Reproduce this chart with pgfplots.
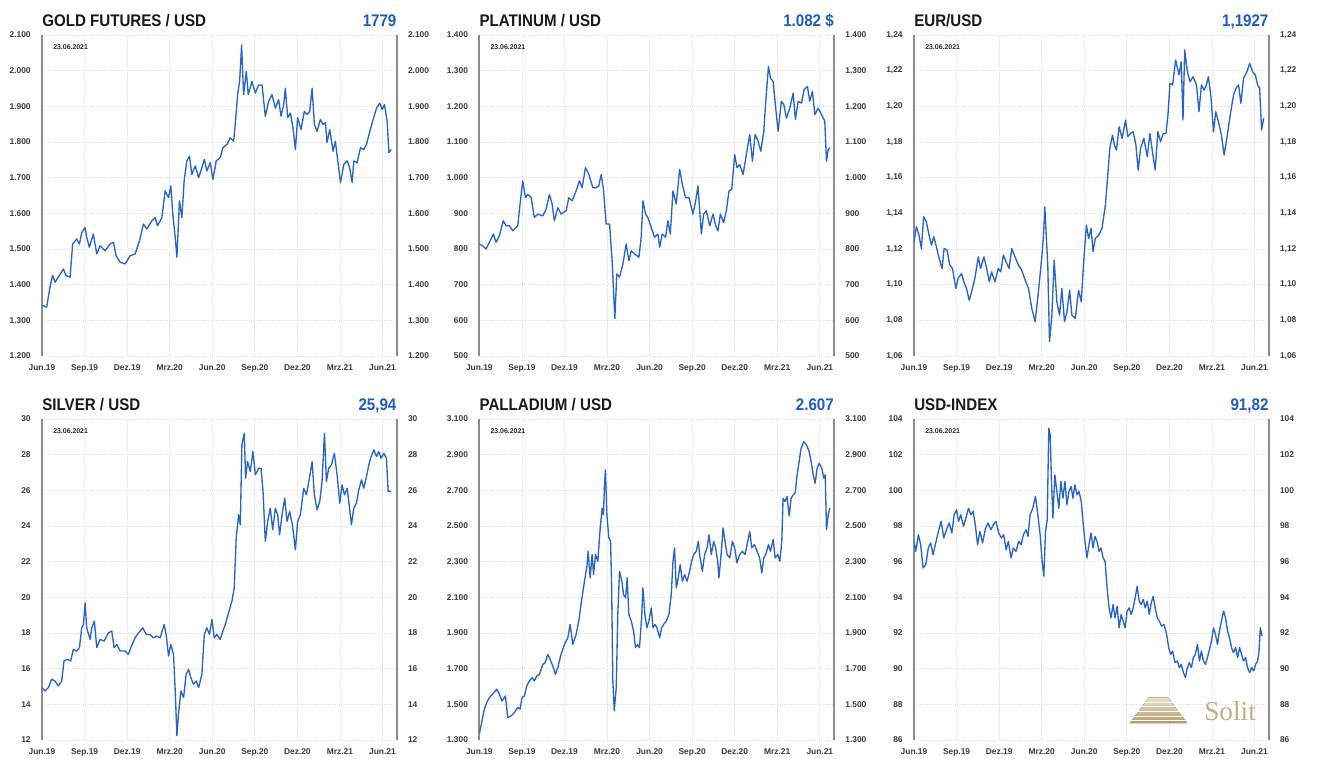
\documentclass[border=0pt]{standalone}
\usepackage{fontspec}
\setmainfont{Liberation Sans}
\newfontfamily\condfont[FakeStretch=0.9]{Liberation Sans}
\newfontfamily\seriffont{Liberation Serif}
\usepackage{pgfplots}
\usepackage{pgfplotstable}
\pgfplotsset{compat=1.18}

\definecolor{linecol}{HTML}{2864C8}
\definecolor{valcol}{HTML}{1F5BC0}
\definecolor{axisgray}{HTML}{8C8C8C}
\definecolor{gridcol}{HTML}{E2E2E2}
\definecolor{tickcol}{HTML}{3A3A3A}
\definecolor{logolight}{HTML}{EDE3CC}
\definecolor{logodark}{HTML}{B39A6B}
\definecolor{solitcol}{HTML}{C4AE86}

\newcommand\tickfont{\fontsize{6.3}{7}\selectfont\bfseries}
\newcommand\titlefnt{\condfont\bfseries\fontsize{12.6}{14}\selectfont}
\newcommand\datefont{\fontsize{5.2}{6}\selectfont\bfseries}

\pgfplotstableread[row sep=\\]{
x y\\
0.00 1342\\ 0.33 1337\\ 0.56 1393\\ 0.75 1426\\ 0.92 1407\\ 1.15 1421\\ 1.51 1444\\ 1.69 1426\\ 1.98 1421\\ 2.16 1514\\
2.45 1528\\ 2.64 1514\\ 2.80 1546\\ 3.04 1560\\ 3.15 1533\\ 3.34 1505\\ 3.62 1542\\ 3.86 1486\\ 4.09 1509\\ 4.45 1495\\
4.80 1514\\ 5.04 1519\\ 5.22 1481\\ 5.51 1463\\ 5.86 1458\\ 6.21 1481\\ 6.56 1486\\ 6.87 1523\\ 7.15 1570\\ 7.39 1556\\
7.74 1579\\ 7.98 1588\\ 8.14 1565\\ 8.45 1588\\ 8.68 1663\\ 8.92 1644\\ 9.08 1677\\ 9.22 1598\\ 9.39 1533\\ 9.51 1477\\
9.69 1635\\ 9.86 1588\\ 10.02 1691\\ 10.21 1747\\ 10.40 1760\\ 10.56 1709\\ 10.80 1733\\ 11.04 1700\\ 11.27 1728\\ 11.44 1751\\
11.62 1719\\ 11.86 1742\\ 12.05 1695\\ 12.28 1747\\ 12.56 1756\\ 12.75 1784\\ 13.04 1793\\ 13.27 1812\\ 13.51 1802\\ 13.62 1849\\
13.79 1933\\ 13.93 1970\\ 14.07 2072\\ 14.21 1933\\ 14.40 1998\\ 14.54 1933\\ 14.80 1970\\ 15.04 1937\\ 15.27 1960\\ 15.51 1960\\
15.74 1872\\ 15.98 1914\\ 16.21 1933\\ 16.45 1895\\ 16.68 1919\\ 16.85 1872\\ 17.04 1905\\ 17.15 1951\\ 17.32 1868\\ 17.51 1881\\
17.69 1840\\ 17.86 1779\\ 18.02 1868\\ 18.26 1835\\ 18.49 1886\\ 18.68 1877\\ 18.87 1886\\ 19.04 1951\\ 19.20 1849\\ 19.39 1830\\
19.62 1863\\ 19.81 1849\\ 19.98 1854\\ 20.09 1798\\ 20.28 1835\\ 20.52 1774\\ 20.68 1802\\ 20.85 1747\\ 21.04 1686\\ 21.27 1737\\
21.51 1747\\ 21.69 1728\\ 21.86 1686\\ 21.98 1747\\ 22.21 1742\\ 22.45 1784\\ 22.68 1779\\ 22.87 1793\\ 23.11 1830\\ 23.34 1863\\
23.58 1895\\ 23.81 1909\\ 23.98 1891\\ 24.14 1905\\ 24.33 1858\\ 24.45 1770\\ 24.61 1779\\
}\goldtab

\pgfplotstableread[row sep=\\]{
x y\\
0 814\\ 0.24 809\\ 0.47 800\\ 0.71 819\\ 0.99 842\\ 1.18 819\\ 1.41 837\\ 1.69 879\\ 1.88 865\\ 2.12 865\\
2.35 851\\ 2.71 865\\ 2.87 926\\ 3.06 991\\ 3.25 944\\ 3.41 953\\ 3.65 944\\ 3.88 888\\ 4.12 898\\ 4.47 893\\
4.71 912\\ 4.94 953\\ 5.13 926\\ 5.29 879\\ 5.53 916\\ 5.76 898\\ 6.12 907\\ 6.31 944\\ 6.54 935\\ 6.82 963\\
7.06 991\\ 7.25 972\\ 7.48 1028\\ 7.72 1009\\ 8.00 972\\ 8.24 972\\ 8.42 977\\ 8.59 1009\\ 8.75 967\\ 8.94 870\\
9.18 870\\ 9.36 767\\ 9.48 665\\ 9.55 605\\ 9.69 730\\ 9.88 721\\ 10.12 758\\ 10.35 814\\ 10.54 767\\ 10.71 795\\
10.94 786\\ 11.25 777\\ 11.41 833\\ 11.53 935\\ 11.72 898\\ 11.88 888\\ 12.12 860\\ 12.35 833\\ 12.59 842\\ 12.71 805\\
12.89 842\\ 13.13 833\\ 13.29 879\\ 13.46 842\\ 13.65 963\\ 13.88 926\\ 14.12 1023\\ 14.31 981\\ 14.54 944\\ 14.78 944\\
15.06 898\\ 15.25 935\\ 15.41 977\\ 15.65 842\\ 15.81 898\\ 16.00 907\\ 16.24 865\\ 16.47 898\\ 16.66 865\\ 16.82 851\\
16.99 898\\ 17.22 874\\ 17.41 907\\ 17.60 963\\ 17.79 967\\ 18.00 1065\\ 18.16 1028\\ 18.35 1037\\ 18.59 1009\\ 18.82 1065\\
19.06 1121\\ 19.25 1046\\ 19.44 1121\\ 19.65 1102\\ 19.84 1074\\ 20.05 1130\\ 20.19 1214\\ 20.38 1312\\ 20.52 1279\\ 20.71 1270\\
20.89 1195\\ 21.06 1130\\ 21.29 1214\\ 21.46 1205\\ 21.65 1167\\ 21.88 1195\\ 22.12 1237\\ 22.28 1163\\ 22.47 1214\\ 22.71 1209\\
22.89 1247\\ 23.13 1256\\ 23.29 1214\\ 23.48 1242\\ 23.65 1177\\ 23.88 1195\\ 24.12 1177\\ 24.35 1158\\ 24.47 1046\\ 24.59 1079\\
24.71 1084\\
}\plattab

\pgfplotstableread[row sep=\\]{
x y\\
0 1.1241\\ 0.17 1.1325\\ 0.35 1.1278\\ 0.52 1.1203\\ 0.68 1.1381\\ 0.87 1.1353\\ 1.06 1.1278\\ 1.23 1.1222\\ 1.39 1.1269\\ 1.58 1.1213\\
1.77 1.1147\\ 1.98 1.1091\\ 2.12 1.1203\\ 2.33 1.1194\\ 2.52 1.1110\\ 2.71 1.1091\\ 2.95 1.0979\\ 3.11 1.1035\\ 3.35 1.1063\\ 3.51 1.1016\\
3.70 1.0979\\ 3.89 1.0913\\ 4.06 1.0960\\ 4.29 1.1035\\ 4.53 1.1156\\ 4.69 1.1091\\ 4.93 1.1156\\ 5.12 1.1091\\ 5.31 1.1016\\ 5.47 1.1072\\
5.71 1.1016\\ 5.94 1.1091\\ 6.11 1.1072\\ 6.30 1.1166\\ 6.49 1.1128\\ 6.70 1.1091\\ 6.89 1.1203\\ 7.12 1.1156\\ 7.36 1.1110\\ 7.59 1.1082\\
7.83 1.1026\\ 8.07 1.0979\\ 8.30 1.0867\\ 8.54 1.0792\\ 8.77 1.0960\\ 9.01 1.1156\\ 9.13 1.1278\\ 9.22 1.1437\\ 9.32 1.1278\\ 9.43 1.1110\\
9.55 1.0680\\ 9.72 1.0829\\ 9.88 1.1138\\ 10.07 1.0904\\ 10.26 1.0829\\ 10.42 1.0979\\ 10.61 1.0792\\ 10.78 1.0848\\ 10.97 1.0969\\ 11.13 1.0829\\
11.37 1.0811\\ 11.60 1.0969\\ 11.79 1.0904\\ 11.96 1.1128\\ 12.15 1.1334\\ 12.31 1.1259\\ 12.48 1.1315\\ 12.62 1.1185\\ 12.78 1.1259\\ 13.02 1.1278\\
13.25 1.1315\\ 13.49 1.1446\\ 13.66 1.1615\\ 13.80 1.1764\\ 13.99 1.1839\\ 14.13 1.1783\\ 14.27 1.1755\\ 14.46 1.1886\\ 14.67 1.1820\\ 14.91 1.1923\\
15.07 1.1830\\ 15.26 1.1848\\ 15.45 1.1858\\ 15.64 1.1783\\ 15.80 1.1643\\ 15.97 1.1764\\ 16.20 1.1820\\ 16.44 1.1717\\ 16.63 1.1848\\ 16.79 1.1755\\
17.00 1.1643\\ 17.19 1.1858\\ 17.38 1.1802\\ 17.57 1.1848\\ 17.76 1.1848\\ 17.90 1.1951\\ 18.04 1.2129\\ 18.23 1.2120\\ 18.44 1.2260\\ 18.68 1.2176\\
18.84 1.2250\\ 18.96 1.1923\\ 19.08 1.2316\\ 19.27 1.2194\\ 19.46 1.2138\\ 19.67 1.2166\\ 19.91 1.2120\\ 20.09 1.1970\\ 20.26 1.2120\\ 20.45 1.2091\\
20.61 1.2120\\ 20.75 1.2166\\ 20.92 1.2063\\ 21.11 1.1858\\ 21.27 1.1970\\ 21.46 1.1914\\ 21.67 1.1839\\ 21.86 1.1727\\ 22.05 1.1820\\ 22.29 1.1951\\
22.52 1.2063\\ 22.69 1.2101\\ 22.88 1.2120\\ 23.04 1.2017\\ 23.23 1.2157\\ 23.47 1.2194\\ 23.66 1.2241\\ 23.87 1.2194\\ 24.06 1.2176\\ 24.22 1.2120\\
24.36 1.2101\\ 24.50 1.1867\\ 24.65 1.1933\\
}\eurtab

\pgfplotstableread[row sep=\\]{
x y\\
0 14.94\\ 0.21 14.75\\ 0.45 14.94\\ 0.68 15.41\\ 0.92 15.31\\ 1.15 15.03\\ 1.39 15.31\\ 1.55 16.43\\ 1.79 16.52\\ 2.02 16.43\\
2.21 17.08\\ 2.45 16.99\\ 2.64 17.18\\ 2.80 18.29\\ 2.92 18.48\\ 3.04 19.69\\ 3.15 18.29\\ 3.39 17.64\\ 3.51 18.29\\ 3.69 18.67\\
3.86 17.18\\ 4.09 17.64\\ 4.38 17.55\\ 4.68 18.01\\ 4.92 18.11\\ 5.08 17.18\\ 5.27 17.36\\ 5.51 16.99\\ 5.86 16.99\\ 6.09 16.80\\
6.26 17.18\\ 6.56 17.73\\ 6.80 18.01\\ 7.11 18.29\\ 7.34 17.92\\ 7.62 17.92\\ 7.86 17.73\\ 8.09 17.83\\ 8.33 17.73\\ 8.61 18.48\\
8.75 17.92\\ 8.92 16.71\\ 9.08 17.36\\ 9.27 16.80\\ 9.39 14.75\\ 9.51 12.24\\ 9.62 13.45\\ 9.79 14.75\\ 9.98 14.38\\ 10.16 15.68\\
10.33 15.96\\ 10.49 15.50\\ 10.68 15.13\\ 10.87 15.31\\ 11.04 14.94\\ 11.27 15.68\\ 11.44 17.92\\ 11.62 18.29\\ 11.81 17.92\\ 11.98 18.76\\
12.14 17.73\\ 12.33 17.92\\ 12.56 17.64\\ 12.75 18.11\\ 12.92 18.48\\ 13.15 19.13\\ 13.39 19.79\\ 13.55 20.53\\ 13.69 23.33\\ 13.86 24.63\\
13.98 24.07\\ 14.09 28.55\\ 14.26 29.20\\ 14.35 26.68\\ 14.49 27.61\\ 14.68 27.05\\ 14.87 28.17\\ 15.04 26.87\\ 15.27 27.24\\ 15.44 27.24\\
15.58 25.94\\ 15.74 23.14\\ 15.91 24.26\\ 16.09 25.00\\ 16.26 23.79\\ 16.45 25.00\\ 16.61 24.63\\ 16.75 23.51\\ 16.92 24.63\\ 17.11 25.56\\
17.27 24.26\\ 17.46 24.82\\ 17.65 24.07\\ 17.86 22.67\\ 18.02 24.26\\ 18.21 24.63\\ 18.45 26.12\\ 18.64 25.75\\ 18.87 26.77\\ 19.04 27.61\\
19.20 25.75\\ 19.39 24.91\\ 19.58 25.38\\ 19.74 26.50\\ 19.91 29.20\\ 20.05 26.50\\ 20.21 27.24\\ 20.40 27.43\\ 20.61 28.08\\ 20.80 26.87\\
20.99 25.28\\ 21.15 26.31\\ 21.32 25.75\\ 21.51 26.12\\ 21.65 25.19\\ 21.81 24.07\\ 21.98 25.00\\ 22.16 25.28\\ 22.33 26.03\\ 22.52 26.59\\
22.68 26.12\\ 22.87 26.77\\ 23.04 27.43\\ 23.20 27.89\\ 23.39 28.27\\ 23.58 27.89\\ 23.74 28.17\\ 23.91 27.80\\ 24.09 28.08\\ 24.28 27.80\\
24.40 25.94\\ 24.61 25.94\\
}\silvtab

\pgfplotstableread[row sep=\\]{
x y\\
0 1333\\ 0.19 1408\\ 0.35 1473\\ 0.52 1510\\ 0.71 1538\\ 0.94 1557\\ 1.22 1585\\ 1.41 1557\\ 1.60 1519\\ 1.84 1547\\
2.00 1426\\ 2.24 1435\\ 2.47 1454\\ 2.71 1482\\ 2.87 1473\\ 3.01 1538\\ 3.18 1547\\ 3.34 1603\\ 3.53 1631\\ 3.72 1650\\
3.88 1631\\ 4.05 1659\\ 4.24 1668\\ 4.47 1724\\ 4.64 1734\\ 4.82 1780\\ 4.99 1752\\ 5.18 1715\\ 5.36 1668\\ 5.53 1706\\
5.76 1780\\ 6.00 1836\\ 6.24 1874\\ 6.40 1948\\ 6.59 1836\\ 6.82 1892\\ 7.01 1967\\ 7.20 2079\\ 7.41 2190\\ 7.58 2274\\
7.67 2358\\ 7.81 2209\\ 7.95 2340\\ 8.05 2228\\ 8.19 2340\\ 8.35 2302\\ 8.52 2489\\ 8.66 2600\\ 8.75 2563\\ 8.82 2731\\
8.89 2815\\ 8.99 2563\\ 9.13 2433\\ 9.25 2414\\ 9.32 2190\\ 9.41 1631\\ 9.51 1464\\ 9.65 1594\\ 9.76 2004\\ 9.88 2246\\
10.05 2190\\ 10.16 2116\\ 10.31 2097\\ 10.42 2209\\ 10.54 2004\\ 10.71 1967\\ 10.87 1911\\ 11.01 1818\\ 11.15 1836\\ 11.29 1818\\
11.44 1986\\ 11.53 2153\\ 11.67 2004\\ 11.81 1930\\ 11.95 1967\\ 12.12 2041\\ 12.24 1930\\ 12.38 1948\\ 12.52 1930\\ 12.71 1874\\
12.85 1930\\ 12.99 1948\\ 13.18 1967\\ 13.36 2004\\ 13.53 2116\\ 13.65 2302\\ 13.76 2377\\ 13.88 2153\\ 14.02 2209\\ 14.16 2284\\
14.31 2190\\ 14.47 2228\\ 14.64 2190\\ 14.82 2246\\ 14.96 2302\\ 15.11 2340\\ 15.29 2358\\ 15.44 2414\\ 15.53 2340\\ 15.72 2246\\
15.88 2340\\ 16.05 2377\\ 16.19 2451\\ 16.35 2340\\ 16.52 2414\\ 16.66 2377\\ 16.80 2302\\ 16.89 2209\\ 17.04 2340\\ 17.18 2489\\
17.32 2414\\ 17.46 2340\\ 17.65 2321\\ 17.84 2414\\ 18.00 2377\\ 18.16 2293\\ 18.35 2340\\ 18.54 2358\\ 18.73 2340\\ 18.92 2414\\
19.06 2470\\ 19.20 2377\\ 19.39 2396\\ 19.58 2358\\ 19.76 2321\\ 19.91 2237\\ 20.05 2321\\ 20.19 2340\\ 20.38 2396\\ 20.52 2358\\
20.71 2424\\ 20.85 2321\\ 21.04 2340\\ 21.18 2302\\ 21.32 2414\\ 21.41 2656\\ 21.55 2637\\ 21.69 2666\\ 21.84 2556\\ 21.98 2656\\
22.12 2675\\ 22.26 2684\\ 22.40 2787\\ 22.54 2861\\ 22.68 2936\\ 22.87 2973\\ 23.06 2955\\ 23.25 2917\\ 23.39 2861\\ 23.53 2787\\
23.67 2740\\ 23.81 2824\\ 23.95 2852\\ 24.14 2824\\ 24.28 2768\\ 24.38 2787\\ 24.47 2479\\ 24.59 2563\\ 24.71 2600\\
}\pallatab

\pgfplotstableread[row sep=\\]{
x y\\
0 97.14\\ 0.12 96.58\\ 0.31 97.51\\ 0.47 96.95\\ 0.64 95.65\\ 0.83 95.84\\ 1.01 96.77\\ 1.18 97.05\\ 1.34 96.39\\ 1.53 97.05\\
1.72 97.70\\ 1.91 98.26\\ 2.10 97.33\\ 2.29 97.79\\ 2.48 98.17\\ 2.67 97.61\\ 2.83 98.63\\ 3.00 98.91\\ 3.14 98.26\\ 3.30 98.63\\
3.49 97.98\\ 3.66 98.45\\ 3.84 99.00\\ 4.01 98.63\\ 4.17 98.82\\ 4.32 98.07\\ 4.48 96.95\\ 4.65 97.70\\ 4.83 97.05\\ 5.02 97.79\\
5.21 98.17\\ 5.42 97.79\\ 5.59 98.07\\ 5.78 98.26\\ 5.97 97.61\\ 6.16 97.33\\ 6.32 97.51\\ 6.49 96.67\\ 6.65 97.14\\ 6.84 96.21\\
7.00 96.77\\ 7.19 96.58\\ 7.38 97.14\\ 7.55 96.95\\ 7.71 97.51\\ 7.90 97.79\\ 8.04 97.42\\ 8.18 98.63\\ 8.37 99.00\\ 8.56 99.66\\
8.73 98.63\\ 8.89 97.51\\ 9.03 96.02\\ 9.15 95.18\\ 9.27 97.70\\ 9.39 98.35\\ 9.50 103.48\\ 9.60 103.11\\ 9.69 100.50\\ 9.79 98.45\\
9.93 100.87\\ 10.07 99.94\\ 10.21 99.00\\ 10.35 100.50\\ 10.50 99.56\\ 10.64 100.50\\ 10.78 99.19\\ 10.92 99.94\\ 11.08 100.22\\ 11.20 99.56\\
11.34 100.31\\ 11.49 99.75\\ 11.63 99.94\\ 11.79 99.38\\ 11.91 98.26\\ 12.05 97.14\\ 12.19 96.21\\ 12.33 96.95\\ 12.48 97.61\\ 12.62 96.77\\
12.76 97.42\\ 12.90 97.14\\ 13.04 96.58\\ 13.18 96.77\\ 13.33 96.21\\ 13.47 96.02\\ 13.61 94.53\\ 13.75 93.41\\ 13.89 92.85\\ 14.03 93.60\\
14.17 92.85\\ 14.32 93.50\\ 14.46 92.29\\ 14.60 93.04\\ 14.74 92.67\\ 14.88 92.29\\ 15.02 93.23\\ 15.17 93.41\\ 15.31 93.04\\ 15.45 93.41\\
15.59 93.97\\ 15.73 94.62\\ 15.87 93.79\\ 16.01 93.60\\ 16.16 93.88\\ 16.30 93.41\\ 16.44 93.79\\ 16.58 93.04\\ 16.72 93.69\\ 16.86 94.06\\
17.00 93.41\\ 17.15 92.85\\ 17.29 92.67\\ 17.45 92.39\\ 17.62 92.48\\ 17.81 91.92\\ 17.95 91.18\\ 18.09 90.80\\ 18.23 90.99\\ 18.40 90.34\\
18.56 90.43\\ 18.70 90.06\\ 18.84 90.24\\ 18.99 89.78\\ 19.13 89.50\\ 19.27 90.06\\ 19.41 90.34\\ 19.55 90.06\\ 19.69 90.62\\ 19.83 90.80\\
19.98 91.36\\ 20.12 90.43\\ 20.26 90.99\\ 20.40 90.43\\ 20.54 90.24\\ 20.68 90.62\\ 20.83 91.08\\ 20.97 91.55\\ 21.11 92.29\\ 21.25 91.92\\
21.39 91.36\\ 21.53 92.11\\ 21.67 92.67\\ 21.82 93.23\\ 21.96 92.85\\ 22.10 92.11\\ 22.24 91.73\\ 22.38 91.18\\ 22.52 90.90\\ 22.67 91.18\\
22.81 90.62\\ 22.95 91.18\\ 23.09 90.80\\ 23.23 90.43\\ 23.37 90.62\\ 23.51 90.06\\ 23.66 89.78\\ 23.80 90.06\\ 23.94 89.87\\ 24.08 90.24\\
24.22 90.43\\ 24.32 90.99\\ 24.41 92.29\\ 24.53 91.83\\
}\usdtab

\tikzset{
  dataline/.style={linecol, line width=1pt, line join=round},
  ttl/.style={anchor=base west, font=\titlefnt, text=black!90, inner sep=0pt, yshift=6.6pt},
  val/.style={anchor=base east, font=\titlefnt, text=valcol, inner sep=0pt, yshift=6.6pt},
  dat/.style={anchor=west, font=\datefont, text=black!85, inner sep=0pt},
}

\pgfplotsset{
  panelbase/.style={
    scale only axis, width=266pt, height=240.75pt,
    xmin=0, xmax=25, xtick={0,3,...,24},
    major tick length=0pt,
    separate axis lines,
    x axis line style={draw=none},
    y axis line style={draw=axisgray, line width=1.4pt},
    tick label style={font=\tickfont, text=tickcol},
    /pgf/number format/assume math mode=true,
    clip mode=individual,
    anchor=north west,
  },
  mainax/.style={panelbase,
    yticklabel pos=left, yticklabel style={xshift=-5pt},
    xticklabel style={yshift=-3pt},
    xticklabels={Jun.19,Sep.19,Dez.19,Mrz.20,Jun.20,Sep.20,Dez.20,Mrz.21,Jun.21},
    grid=major, major grid style={densely dotted, gridcol, line width=0.5pt}},
  twinax/.style={panelbase,
    yticklabel pos=right, yticklabel style={xshift=5pt},
    xticklabels={}, y axis line style={draw=none}},
  thousands/.style={/pgf/number format/1000 sep={.}, /pgf/number format/fixed},
  commatwo/.style={/pgf/number format/fixed, /pgf/number format/fixed zerofill,
    /pgf/number format/precision=2, /pgf/number format/use comma},
  plainint/.style={/pgf/number format/fixed},
}

\begin{document}
\begin{tikzpicture}
\useasboundingbox (0pt,0pt) rectangle (987.75pt,-568.5pt);

% ---------- GOLD
\begin{axis}[mainax, at={(31.5pt,-26.25pt)}, ymin=1200, ymax=2100, ytick={1200,1300,...,2100}, thousands]
\addplot[dataline] table[x index=0, y index=1]{\goldtab};
\node[ttl] at (rel axis cs:0,1) {GOLD FUTURES / USD};
\node[val] at (rel axis cs:1,1) {1779};
\node[dat] at (rel axis cs:0.031,0.963) {23.06.2021};
\end{axis}
\begin{axis}[twinax, at={(31.5pt,-26.25pt)}, ymin=1200, ymax=2100, ytick={1200,1300,...,2100}, thousands]
\end{axis}

% ---------- PLATINUM
\begin{axis}[mainax, at={(359.5pt,-26.25pt)}, ymin=500, ymax=1400, ytick={500,600,...,1400}, thousands]
\addplot[dataline] table[x index=0, y index=1]{\plattab};
\node[ttl] at (rel axis cs:0,1) {PLATINUM / USD};
\node[val] at (rel axis cs:1,1) {1.082 \$};
\node[dat] at (rel axis cs:0.031,0.963) {23.06.2021};
\end{axis}
\begin{axis}[twinax, at={(359.5pt,-26.25pt)}, ymin=500, ymax=1400, ytick={500,600,...,1400}, thousands]
\end{axis}

% ---------- EUR/USD
\begin{axis}[mainax, at={(685.5pt,-26.25pt)}, ymin=1.06, ymax=1.24, ytick={1.06,1.08,1.10,1.12,1.14,1.16,1.18,1.20,1.22,1.24}, commatwo]
\addplot[dataline] table[x index=0, y index=1]{\eurtab};
\node[ttl] at (rel axis cs:0,1) {EUR/USD};
\node[val] at (rel axis cs:1,1) {1,1927};
\node[dat] at (rel axis cs:0.031,0.963) {23.06.2021};
\end{axis}
\begin{axis}[twinax, at={(685.5pt,-26.25pt)}, ymin=1.06, ymax=1.24, ytick={1.06,1.08,1.10,1.12,1.14,1.16,1.18,1.20,1.22,1.24}, commatwo]
\end{axis}

% ---------- SILVER
\begin{axis}[mainax, at={(31.5pt,-314.25pt)}, ymin=12, ymax=30, ytick={12,14,...,30}, plainint]
\addplot[dataline] table[x index=0, y index=1]{\silvtab};
\node[ttl] at (rel axis cs:0,1) {SILVER / USD};
\node[val] at (rel axis cs:1,1) {25,94};
\node[dat] at (rel axis cs:0.031,0.963) {23.06.2021};
\end{axis}
\begin{axis}[twinax, at={(31.5pt,-314.25pt)}, ymin=12, ymax=30, ytick={12,14,...,30}, plainint]
\end{axis}

% ---------- PALLADIUM
\begin{axis}[mainax, at={(359.5pt,-314.25pt)}, ymin=1300, ymax=3100, ytick={1300,1500,...,3100}, thousands]
\addplot[dataline] table[x index=0, y index=1]{\pallatab};
\node[ttl] at (rel axis cs:0,1) {PALLADIUM / USD};
\node[val] at (rel axis cs:1,1) {2.607};
\node[dat] at (rel axis cs:0.031,0.963) {23.06.2021};
\end{axis}
\begin{axis}[twinax, at={(359.5pt,-314.25pt)}, ymin=1300, ymax=3100, ytick={1300,1500,...,3100}, thousands]
\end{axis}

% ---------- USD-INDEX
\begin{axis}[mainax, at={(685.5pt,-314.25pt)}, ymin=86, ymax=104, ytick={86,88,...,104}, plainint]
\addplot[dataline] table[x index=0, y index=1]{\usdtab};
\node[ttl] at (rel axis cs:0,1) {USD-INDEX};
\node[val] at (rel axis cs:1,1) {91,82};
\node[dat] at (rel axis cs:0.031,0.963) {23.06.2021};
\end{axis}
\begin{axis}[twinax, at={(685.5pt,-314.25pt)}, ymin=86, ymax=104, ytick={86,88,...,104}, plainint]
\end{axis}

% Solit logo
\fill[top color=logolight, bottom color=logodark] (847.5pt,-542.25pt) -- (890.25pt,-542.25pt) -- (876pt,-523pt) -- (861.5pt,-523pt) -- cycle;
\foreach \yy in {526.5,530,533.5,537,540.5} {
  \draw[white, line width=0.7pt] (845pt,-\yy pt) -- (893pt,-\yy pt);
}
\node[anchor=base west, font=\seriffont\fontsize{20.5}{22}\selectfont, text=solitcol, inner sep=0pt] at (903pt,-540pt) {Solit};
\end{tikzpicture}
\end{document}
